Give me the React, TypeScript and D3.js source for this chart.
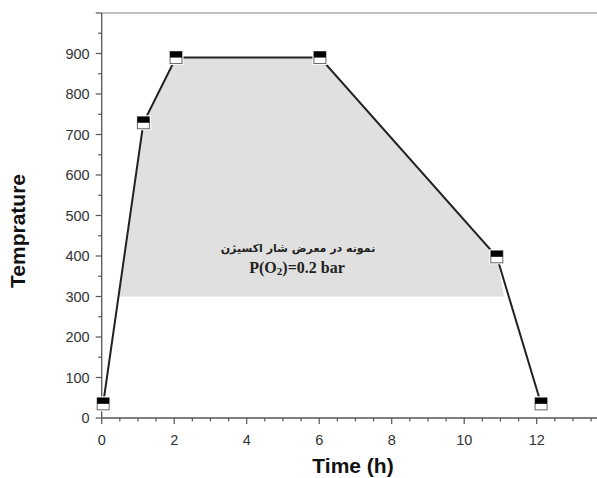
import React from "react";
import * as d3 from "d3";

const timeH = [0.04, 1.15, 2.05, 6.02, 10.9, 12.12];
const tempValues = [35, 729, 890, 890, 398, 35];
const shadeTime = [0.48, 1.15, 2.05, 6.02, 10.9, 11.1];
const shadeTemp = [300, 729, 890, 890, 398, 300];
const xTicks = [0, 2, 4, 6, 8, 10, 12];
const yTicks = [0, 100, 200, 300, 400, 500, 600, 700, 800, 900];
const labelFa = "نمونه در معرض شار اکسیژن";

export default function App() {
  const W = 597, H = 478;
  const x = d3.scaleLinear().domain([0, 14]).range([101.7, 101.7 + 14 * 36.25]);
  const y = d3.scaleLinear().domain([0, 1000]).range([418, 13]);
  const line = d3.line<number>().x((_, i) => x(timeH[i])).y((_, i) => y(tempValues[i]));
  const shade = d3.line<number>().x((_, i) => x(shadeTime[i])).y((_, i) => y(shadeTemp[i]));
  const xMinor = d3.range(0, 14.01, 0.5);
  const yMinor = d3.range(0, 1000.1, 50);
  const axisColor = "#555";
  const tickFont = "'Liberation Sans', Arial, sans-serif";
  return (
    <svg width={W} height={H} style={{ position: "absolute", left: 0, top: 0, background: "#fff" }}>
      <path d={shade(shadeTime.map(() => 0)) + "Z"} fill="#e0e0e0" stroke="none" />
      <line x1={x(0)} x2={W} y1={13} y2={13} stroke="#c0c0c0" strokeWidth={2} />
      {/* y axis */}
      <line x1={x(0)} x2={x(0)} y1={y(0)} y2={y(1000)} stroke={axisColor} strokeWidth={1.3} />
      {yMinor.map((v) => (
        <line key={"ym" + v} x1={x(0) - (v % 100 === 0 ? 6 : 3.5)} x2={x(0)} y1={y(v)} y2={y(v)} stroke={axisColor} strokeWidth={1.2} />
      ))}
      {yTicks.map((v) => (
        <text key={"yt" + v} x={x(0) - 12} y={y(v)} dy="0.36em" textAnchor="end" fontFamily={tickFont} fontSize={14.5} fill="#333">{v}</text>
      ))}
      {/* x axis */}
      <line x1={x(0)} x2={W} y1={y(0)} y2={y(0)} stroke={axisColor} strokeWidth={1.3} />
      {xMinor.map((v) => (
        <line key={"xm" + v} x1={x(v)} x2={x(v)} y1={y(0)} y2={y(0) + (v % 2 === 0 ? 6 : 3.5)} stroke={axisColor} strokeWidth={1.2} />
      ))}
      {xTicks.map((v) => (
        <text key={"xt" + v} x={x(v)} y={444.5} textAnchor="middle" fontFamily={tickFont} fontSize={14.5} fill="#333">{v}</text>
      ))}
      <text x={353} y={473} textAnchor="middle" fontFamily={tickFont} fontWeight="bold" fontSize={21} fill="#111">Time (h)</text>
      <text transform={`translate(25,231) rotate(-90)`} textAnchor="middle" fontFamily={tickFont} fontWeight="bold" fontSize={21} fill="#111">Temprature</text>
      {/* data line */}
      <path d={line(timeH.map(() => 0)) || ""} fill="none" stroke="#222" strokeWidth={2} />
      {timeH.map((t, i) => {
        const cx = x(t), cy = y(tempValues[i]);
        return (
          <g key={"m" + i}>
            <rect x={cx - 7.5} y={cy - 7.5} width={15} height={15} fill="#fff" />
            <rect x={cx - 6} y={cy - 6} width={12} height={12} fill="#fff" stroke="#666" strokeWidth={1} />
            <rect x={cx - 6} y={cy - 6} width={12} height={6} fill="#000" />
          </g>
        );
      })}
      <text x={298} y={252} textAnchor="middle" fontFamily="'DejaVu Sans', sans-serif" fontWeight="bold" fontSize={11} fill="#222" direction="rtl">{labelFa}</text>
      <text x={297} y={273} textAnchor="middle" fontFamily="'Liberation Serif', 'Times New Roman', serif" fontWeight="bold" fontSize={16} fill="#222">
        P(O<tspan fontSize={11} dy={2}>2</tspan><tspan dy={-2}>)=0.2 bar</tspan>
      </text>
    </svg>
  );
}
